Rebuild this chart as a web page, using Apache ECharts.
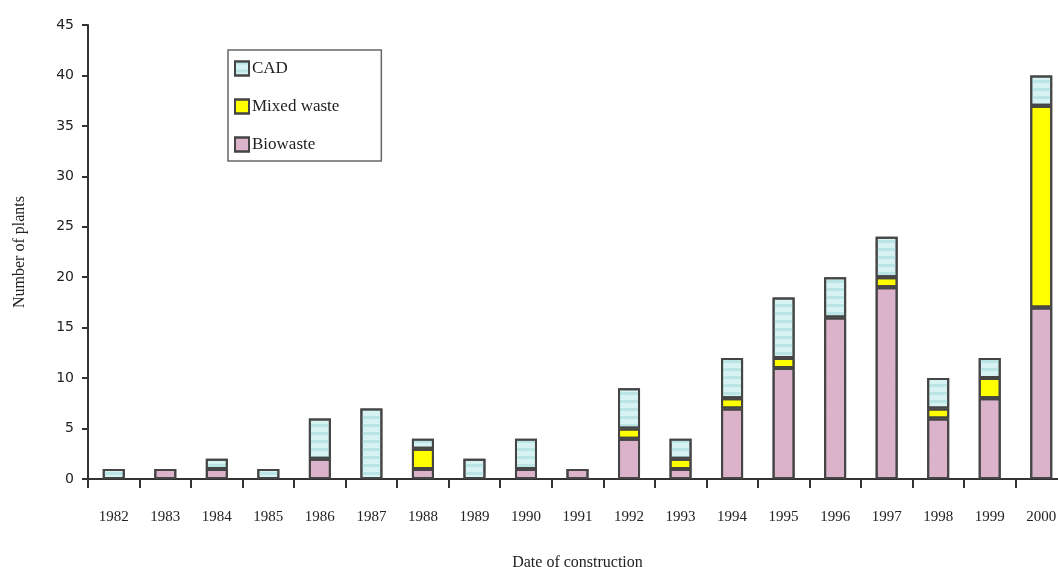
<!DOCTYPE html>
<html><head><meta charset="utf-8">
<script src="https://cdn.jsdelivr.net/npm/echarts@6/dist/echarts.min.js"></script>
<style>html,body{margin:0;padding:0;background:#fff;overflow:hidden}#c{width:1058px;height:567px}</style>
</head><body><div id="c"></div>
<script>
const years = ['1982','1983','1984','1985','1986','1987','1988','1989','1990','1991','1992','1993','1994','1995','1996','1997','1998','1999','2000'];
const biowaste = [0,1,1,0,2,0,1,0,1,1,4,1,7,11,16,19,6,8,17];
const mixedWaste = [0,0,0,0,0,0,2,0,0,0,1,1,1,1,0,1,1,2,20];
const cad = [1,0,1,1,4,7,1,2,3,0,4,2,4,6,4,4,3,2,3];
const yTicks = {min:0,max:45,interval:5};

const serif = 'Liberation Serif';
const sans = 'DejaVu Sans';
const border = {borderColor:'#454545',borderWidth:2};
function mk(name,data,color,decal){
  const it = Object.assign({color},border);
  if (decal) it.decal = decal;
  return {name,type:'bar',stack:'t',data:data.map(v=>v===0?null:v),barWidth:22,
    itemStyle:it,emphasis:{disabled:true}};
}
const chart = echarts.init(document.getElementById('c'));
chart.setOption({
  animation:false,
  aria:{enabled:false,decal:{show:true}},
  grid:{left:88,top:25,height:454,width:979,containLabel:false,outerBoundsMode:'none'},
  legend:{orient:'vertical',left:228,top:50,padding:[10,42,8,6],icon:'rect',
    borderColor:'#666',borderWidth:1.5,itemWidth:14,itemHeight:14,itemGap:21,
    data:['CAD','Mixed waste','Biowaste'],
    textStyle:{fontFamily:serif,fontSize:17,color:'#222',padding:[0,0,0,-2]}},
  xAxis:{type:'category',data:years,
    axisLine:{lineStyle:{color:'#333',width:2}},
    axisTick:{show:true,length:9,lineStyle:{color:'#333',width:2}},
    axisLabel:{margin:31,fontFamily:serif,fontSize:15,color:'#222'},
    name:'Date of construction',nameLocation:'middle',nameGap:76,
    nameTextStyle:{fontFamily:serif,fontSize:16,color:'#222'}},
  yAxis:{type:'value',min:yTicks.min,max:yTicks.max,interval:yTicks.interval,
    splitLine:{show:false},
    axisLine:{show:true,lineStyle:{color:'#333',width:2}},
    axisTick:{show:true,length:6,lineStyle:{color:'#333',width:2}},
    axisLabel:{margin:14,fontFamily:sans,fontSize:14,color:'#222'},
    name:'Number of plants',nameLocation:'middle',nameGap:60,nameRotate:90,
    nameTextStyle:{fontFamily:serif,fontSize:16,color:'#222'}},
  series:[
    mk('Biowaste',biowaste,'#dcb4cc',{symbol:'rect',symbolSize:1,color:'rgba(190,150,175,0.35)',dashArrayX:[1,2],dashArrayY:[1,2],rotation:0.785}),
    mk('Mixed waste',mixedWaste,'#ffff00',{symbol:'none'}),
    mk('CAD',cad,'#d6f2f2',{symbol:'rect',symbolSize:1,color:'rgba(160,215,215,0.5)',dashArrayX:[[1,0]],dashArrayY:[3,5],rotation:0})
  ]
});
</script></body></html>
